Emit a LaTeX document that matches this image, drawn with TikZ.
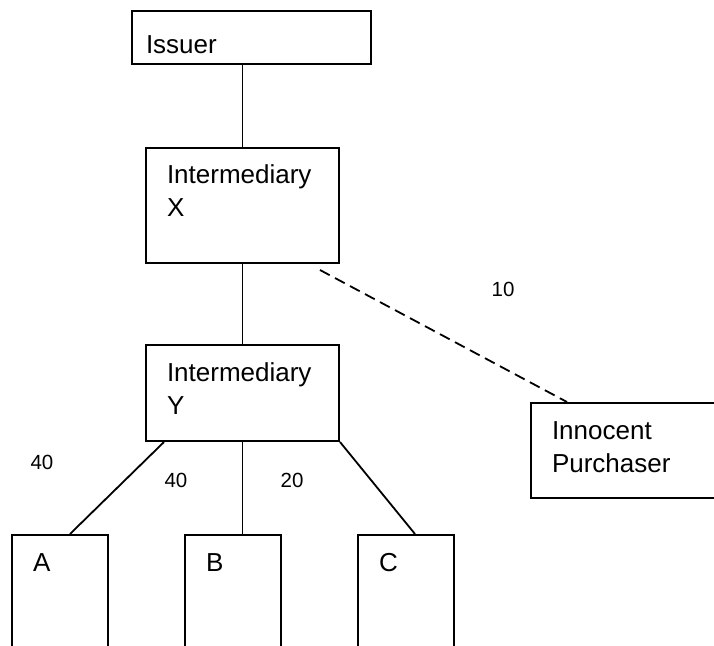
\documentclass[tikz,border=0pt]{standalone}
\usepackage{fontspec}
\setmainfont{Liberation Sans}

\tikzset{
    party/.style={draw,rectangle,line width=2pt,anchor=north west,inner ysep=0pt,inner xsep=21pt,
                  align=left,text height=36pt,font=\fontsize{26}{33.5}\selectfont},
    share/.style={inner sep=0pt,font=\fontsize{20.5}{24}\selectfont},
    link/.style={line width=1.8pt}
}

\begin{document}
\begin{tikzpicture}[x=1pt,y=-1pt]
    \useasboundingbox (0,0) rectangle (714,645);
    \clip (0,0) rectangle (714,645);

    \node[party,inner xsep=14pt,text width=211pt,text height=42pt,text depth=11pt] (Issuer) at (131,10) {Issuer};
    \node[party,text width=151pt,text height=35pt,text depth=80pt] (X) at (145,147) {Intermediary\\X};
    \node[party,text width=151pt,text depth=60pt] (Y) at (145,344) {Intermediary\\Y};
    \node[party,text width=240pt,text depth=59pt] (Innocent) at (530,402) {Innocent\\Purchaser};
    \foreach \name/\x in {A/11, B/184, C/357}
        \node[party,text width=54pt,text depth=150pt] (\name) at (\x,534) {\name};

    % holdings
    \node[share] (shareA) at (42,462) {40};
    \node[share] (shareB) at (176,480) {40};
    \node[share] (shareC) at (292,480) {20};
    \node[share] (shareP) at (503,289) {10};

    \draw[link] (Issuer.south -| X.north) -- (X.north);
    \draw[link] (X.south) -- (Y.north);
    \draw[link,dash pattern=on 11pt off 6pt] ([shift={(-20,6)}]X.south east) -- ([xshift=37pt]Innocent.north west);
    \draw[link] ([xshift=19pt]Y.south west) -- ([xshift=10pt]A.north);
    \draw[link] (Y.south) -- (Y.south |- B.north);
    \draw[link] (Y.south east) -- ([xshift=9pt]C.north);
\end{tikzpicture}
\end{document}
